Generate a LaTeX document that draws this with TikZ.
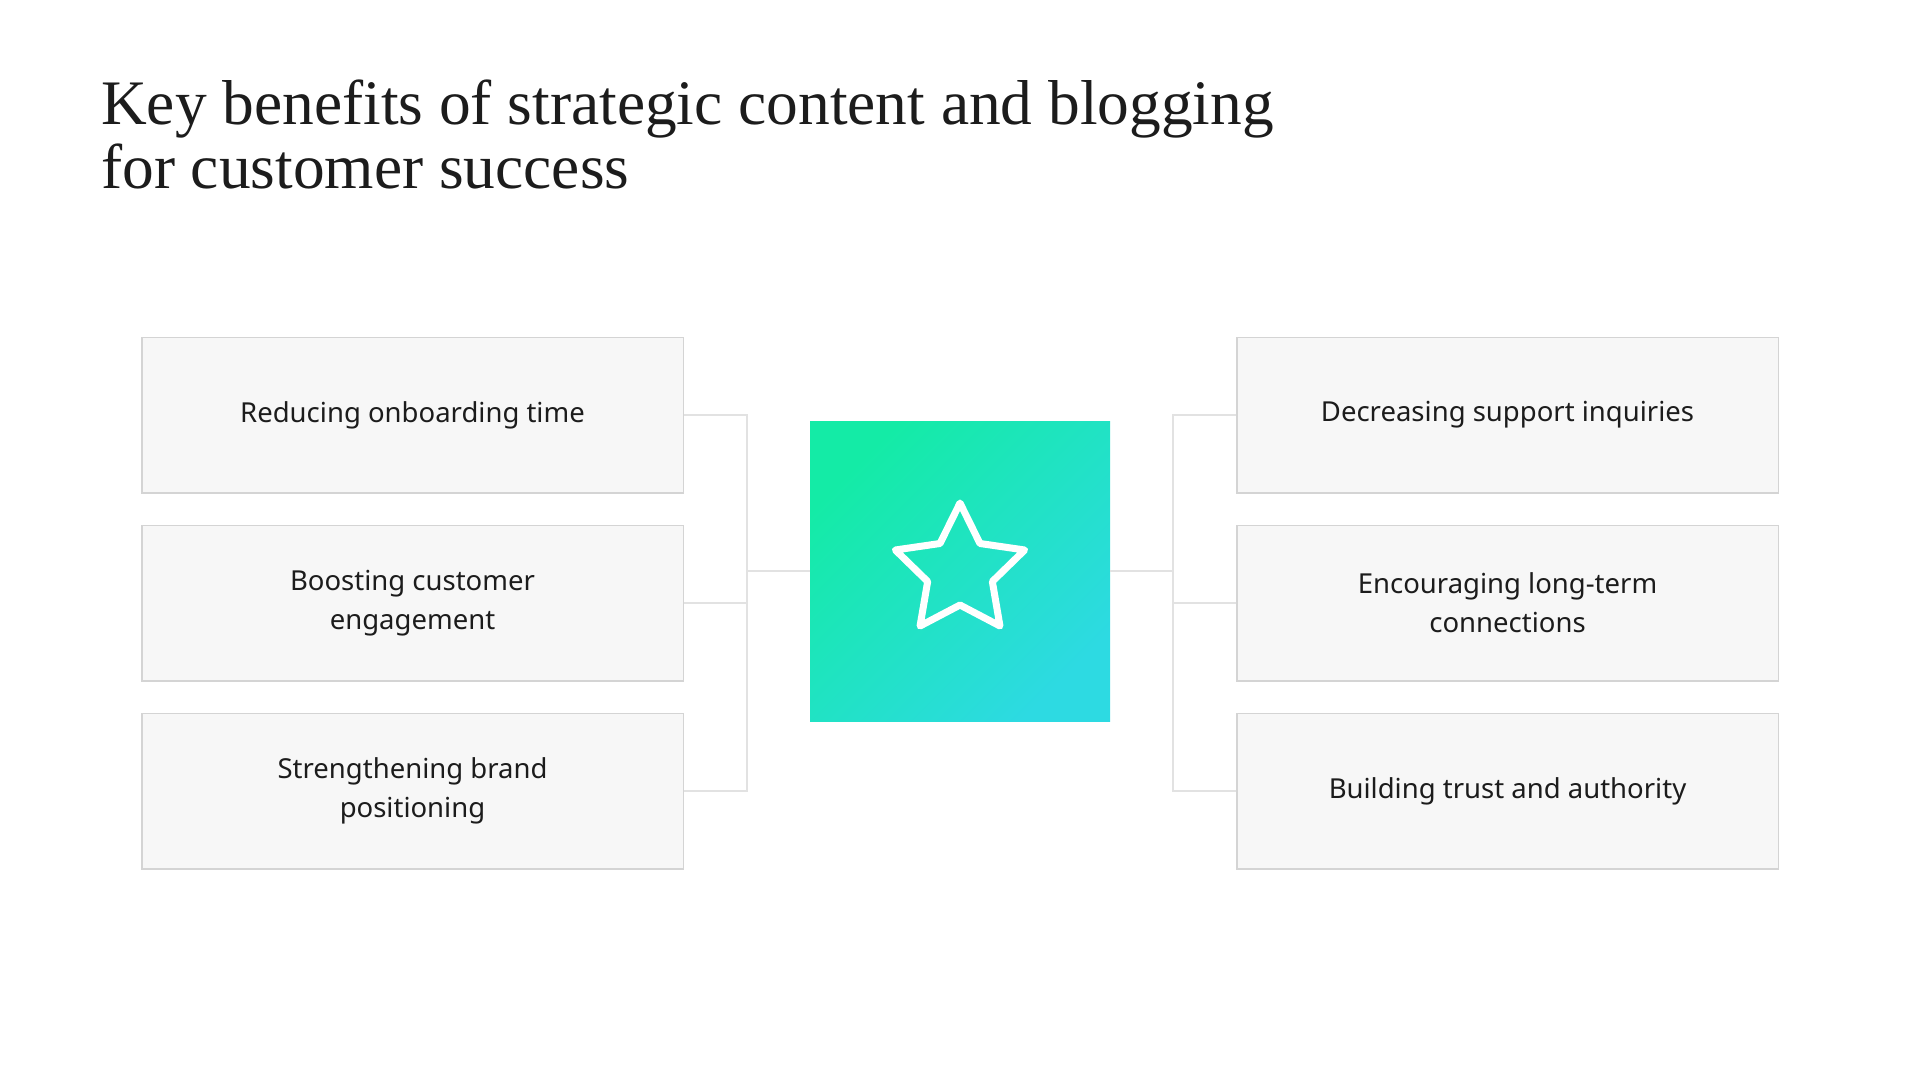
\documentclass[tikz,border=0pt]{standalone}
\usepackage{fontspec}
\setmainfont{Liberation Serif}
\newfontfamily\boxfont{Noto Sans}
\usetikzlibrary{positioning,shapes.geometric}
\definecolor{ink}{HTML}{1C1C1C}
\definecolor{boxfill}{HTML}{F7F7F7}
\definecolor{boxline}{HTML}{D4D4D4}
\definecolor{linkgray}{HTML}{E2E2E2}
\definecolor{hubgreen}{HTML}{14EBA6}
\definecolor{hubcyan}{HTML}{2DDAE2}

\begin{document}
\begin{tikzpicture}[x=1pt, y=-1pt, node distance={31pt},
  item/.style = {draw=boxline, fill=boxfill, line width=1.5pt, minimum width=541.5pt, minimum height=155.5pt, align=center, text=ink, font=\boxfont\fontsize{27.5pt}{39pt}\selectfont},
  hub/.style = {minimum size=300pt, inner sep=0pt, top color=hubgreen, bottom color=hubcyan, shading angle=45},
  link/.style = {draw=linkgray, line width=2pt}]
  \useasboundingbox (0,0) rectangle (1920,1080);
  \node[anchor=base west, inner sep=0pt, align=left, text=ink, font=\fontsize{63.4pt}{64pt}\selectfont] (title) at (101,188) {Key benefits of strategic content and blogging\\for customer success};

  \node[item] (1) at (412.5,415) {Reducing onboarding time};
  \node[item] (2) [below=of 1] {Boosting customer\\engagement};
  \node[item] (3) [below=of 2] {Strengthening brand\\positioning};
  \node[item] (4) [right=552pt of 1] {Decreasing support inquiries};
  \node[item] (5) [below=of 4] {Encouraging long-term\\connections};
  \node[item] (6) [below=of 5] {Building trust and authority};

  \node[hub] (0) at (960,571) {};
  \node[star, star points=5, star point ratio=2, draw=white, line width=7pt, line join=round, minimum size=136pt, inner sep=0pt] (icon) at (0) {};

  \coordinate (jl) at (747,571);
  \coordinate (jr) at (1173,571);
  \draw[link] (1) -| (jl) |- (3);
  \draw[link] (2) -| (jl);
  \draw[link] (jl) -- (0);
  \draw[link] (4) -| (jr) |- (6);
  \draw[link] (5) -| (jr);
  \draw[link] (jr) -- (0);
\end{tikzpicture}
\end{document}
